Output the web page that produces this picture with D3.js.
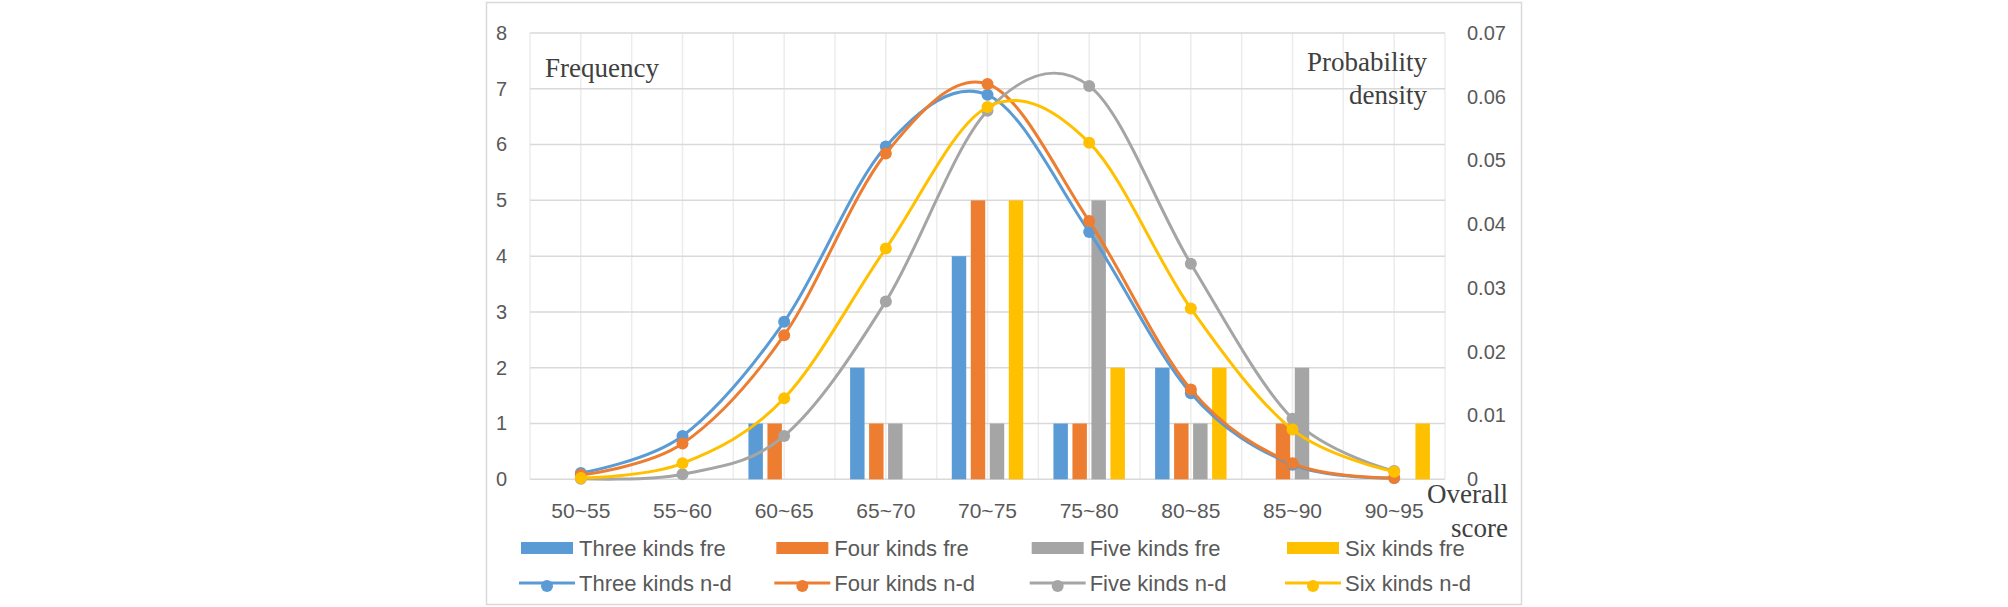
<!DOCTYPE html>
<html>
<head>
<meta charset="utf-8">
<script src="https://cdn.jsdelivr.net/npm/d3@7/dist/d3.min.js"></script>
<style>
  html, body { margin: 0; padding: 0; background: #ffffff; }
  svg { display: block; }
</style>
</head>
<body>
<svg id="chart" width="2008" height="607"></svg>
<script>
// ---------------- DATA ----------------
const categories = ["50~55", "55~60", "60~65", "65~70", "70~75", "75~80", "80~85", "85~90", "90~95"];
const seriesNames = ["Three kinds", "Four kinds", "Five kinds", "Six kinds"];

// Frequency (left axis)
const threeFre = [0, 0, 1, 2, 4, 1, 2, 0, 0];
const fourFre  = [0, 0, 1, 1, 5, 1, 1, 1, 0];
const fiveFre  = [0, 0, 0, 1, 1, 5, 1, 2, 0];
const sixFre   = [0, 0, 0, 0, 5, 2, 2, 0, 1];

// Probability density (right axis)
const threeND = [0.0010, 0.0068, 0.0247, 0.0522, 0.0603, 0.0388, 0.0135, 0.0023, 0.0002];
const fourND  = [0.0007, 0.0056, 0.0226, 0.0511, 0.0620, 0.0405, 0.0141, 0.0025, 0.0002];
const fiveND  = [0.0001, 0.0008, 0.0068, 0.0279, 0.0578, 0.0617, 0.0338, 0.0095, 0.0013];
const sixND   = [0.0002, 0.0025, 0.0127, 0.0362, 0.0584, 0.0528, 0.0268, 0.0078, 0.0012];

const leftTicks  = [0, 1, 2, 3, 4, 5, 6, 7, 8];
const rightTicks = [0, 0.01, 0.02, 0.03, 0.04, 0.05, 0.06, 0.07];

const colors = ["#5B9BD5", "#ED7D31", "#A5A5A5", "#FFC000"];
const freSeries = [threeFre, fourFre, fiveFre, sixFre];
const ndSeries  = [threeND, fourND, fiveND, sixND];
const freLabels = ["Three kinds fre", "Four kinds fre", "Five kinds fre", "Six kinds fre"];
const ndLabels  = ["Three kinds n-d", "Four kinds n-d", "Five kinds n-d", "Six kinds n-d"];

// ---------------- LAYOUT ----------------
const svg = d3.select("#chart");
const plot = { left: 530, right: 1445, top: 33, bottom: 479.3 };
const sans = "'Liberation Sans', Arial, sans-serif";
const serif = "'Liberation Serif', 'Times New Roman', serif";
const tickColor = "#595959";

// chart border
svg.append("rect")
  .attr("x", 486.5).attr("y", 2.5).attr("width", 1035).attr("height", 602)
  .attr("fill", "#fff").attr("stroke", "#d9d9d9").attr("stroke-width", 1.5);

const x = d3.scaleBand().domain(categories).range([plot.left, plot.right]).padding(0);
const xInner = d3.scaleBand().domain(seriesNames).range([0, x.bandwidth()])
  .paddingInner(0.24).paddingOuter(0.795);
const yL = d3.scaleLinear().domain([0, 8]).range([plot.bottom, plot.top]);
const yR = d3.scaleLinear().domain([0, 0.07]).range([plot.bottom, plot.top]);

// vertical gridlines (band edges and centres)
const vPos = [];
categories.forEach(c => { vPos.push(x(c)); vPos.push(x(c) + x.bandwidth() / 2); });
vPos.push(plot.right);
svg.append("g").selectAll("line").data(vPos).join("line")
  .attr("x1", d => d).attr("x2", d => d)
  .attr("y1", plot.top).attr("y2", plot.bottom)
  .attr("stroke", "#ececec").attr("stroke-width", 1.5);

// horizontal gridlines
svg.append("g").selectAll("line").data(leftTicks).join("line")
  .attr("x1", plot.left).attr("x2", plot.right)
  .attr("y1", d => yL(d)).attr("y2", d => yL(d))
  .attr("stroke", "#d9d9d9").attr("stroke-width", 1.5);

// axes
function styleAxis(g, size) {
  g.select(".domain").remove();
  g.selectAll("line").remove();
  g.selectAll("text").attr("fill", tickColor).style("font-family", sans).style("font-size", size + "px");
}
svg.append("g").attr("transform", `translate(${plot.left},0)`)
  .call(d3.axisLeft(yL).tickValues(leftTicks).tickSize(0).tickPadding(23).tickFormat(d3.format("d")))
  .call(g => styleAxis(g, 20));
svg.append("g").attr("transform", `translate(${plot.right},0)`)
  .call(d3.axisRight(yR).tickValues(rightTicks).tickSize(0).tickPadding(22)
    .tickFormat(d => d === 0 ? "0" : d3.format(".2f")(d)))
  .call(g => styleAxis(g, 20));
svg.append("g").attr("transform", `translate(0,${plot.bottom})`)
  .call(d3.axisBottom(x).tickSize(0).tickPadding(24))
  .call(g => styleAxis(g, 21));

// bars
seriesNames.forEach((s, i) => {
  svg.append("g").selectAll("rect").data(freSeries[i].map((v, j) => ({ c: categories[j], v })))
    .join("rect")
    .attr("x", d => x(d.c) + xInner(s))
    .attr("width", xInner.bandwidth())
    .attr("y", d => yL(d.v))
    .attr("height", d => yL(0) - yL(d.v))
    .attr("fill", colors[i]);
});

// lines
const line = d3.line()
  .x(d => x(d.c) + x.bandwidth() / 2)
  .y(d => yR(d.v))
  .curve(d3.curveCardinal.tension(0));
seriesNames.forEach((s, i) => {
  const pts = ndSeries[i].map((v, j) => ({ c: categories[j], v }));
  const g = svg.append("g");
  g.append("path").datum(pts).attr("d", line)
    .attr("fill", "none").attr("stroke", colors[i]).attr("stroke-width", 3)
    .attr("stroke-linejoin", "round");
  g.selectAll("circle").data(pts).join("circle")
    .attr("cx", d => x(d.c) + x.bandwidth() / 2)
    .attr("cy", d => yR(d.v))
    .attr("r", 6).attr("fill", colors[i]);
});

// axis titles
const titleColor = "#404040";
svg.append("text").attr("x", 545).attr("y", 77)
  .attr("fill", titleColor).style("font-family", serif).style("font-size", "27px")
  .text("Frequency");
const pd = svg.append("text").attr("text-anchor", "end")
  .attr("fill", titleColor).style("font-family", serif).style("font-size", "27px");
pd.append("tspan").attr("x", 1427).attr("y", 71).text("Probability");
pd.append("tspan").attr("x", 1427).attr("y", 104).text("density");
const os = svg.append("text").attr("text-anchor", "end")
  .attr("fill", titleColor).style("font-family", serif).style("font-size", "27px");
os.append("tspan").attr("x", 1508).attr("y", 503).text("Overall");
os.append("tspan").attr("x", 1508).attr("y", 537).text("score");

// legend
const legX = d3.scalePoint().domain(seriesNames).range([521, 1287]);
const row1 = 548, row2 = 583;
seriesNames.forEach((s, i) => {
  const lx = legX(s);
  svg.append("rect").attr("x", lx).attr("y", row1 - 6).attr("width", 52).attr("height", 12)
    .attr("fill", colors[i]);
  svg.append("text").attr("x", lx + 58).attr("y", row1).attr("dy", "0.35em")
    .attr("fill", tickColor).style("font-family", sans).style("font-size", "22px")
    .text(freLabels[i]);
  svg.append("line").attr("x1", lx - 2).attr("x2", lx + 54).attr("y1", row2).attr("y2", row2)
    .attr("stroke", colors[i]).attr("stroke-width", 3);
  svg.append("circle").attr("cx", lx + 26).attr("cy", row2 + 3).attr("r", 6).attr("fill", colors[i]);
  svg.append("text").attr("x", lx + 58).attr("y", row2).attr("dy", "0.35em")
    .attr("fill", tickColor).style("font-family", sans).style("font-size", "22px")
    .text(ndLabels[i]);
});
</script>
</body>
</html>
